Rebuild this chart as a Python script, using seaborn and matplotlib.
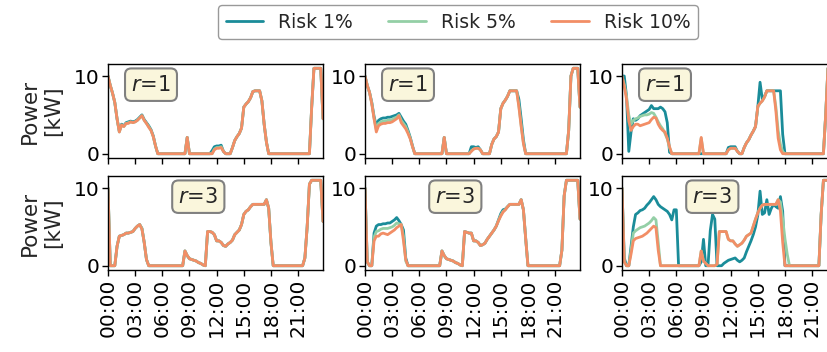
import numpy as np
import pandas as pd
import matplotlib
matplotlib.use('Agg')
import matplotlib.pyplot as plt
import seaborn as sns

# Eje temporal: un dia con resolucion de 15 minutos (96 pasos)
horas = np.arange(96) / 4
ticks_horas = [0, 3, 6, 9, 12, 15, 18, 21]
etiquetas_horas = ['00:00', '03:00', '06:00', '09:00', '12:00', '15:00', '18:00', '21:00']

series = ['Risk 1%', 'Risk 5%', 'Risk 10%']
colores = ['#1a8c99', '#94cfa6', '#f28e66']
valores_r = [1, 3]

# ---- Fila r=1 ----
a1 = [10, 8.8, 7.8, 6.6, 4.5, 2.9, 3.8, 3.6, 4.0, 4.1, 4.2, 4.1,
      4.2, 4.4, 4.7, 5.0, 4.4, 4.0, 3.6, 3.1, 2.3, 1.0, 0, 0,
      0, 0, 0, 0, 0, 0, 0, 0, 0, 0, 0, 2.1,
      0, 0, 0, 0, 0, 0, 0, 0, 0, 0, 0.4, 0.9,
      1.0, 1.0, 1.1, 0.3, 0, 0, 0, 0.8, 1.7, 2.2, 2.6, 3.3,
      6.0, 6.4, 6.7, 7.2, 8.0, 8.1, 8.1, 8.1, 6.8, 3.8, 1.5, 0,
      0, 0, 0, 0, 0, 0, 0, 0, 0, 0, 0, 0,
      0, 0, 0, 0, 0, 0, 6, 11, 11, 11, 11, 4.5]
a5 = [10, 8.8, 7.8, 6.6, 4.5, 2.8, 3.7, 3.5, 3.9, 4.0, 4.1, 4.0,
      4.1, 4.3, 4.6, 4.9, 4.3, 3.9, 3.5, 3.0, 2.2, 1.0, 0, 0,
      0, 0, 0, 0, 0, 0, 0, 0, 0, 0, 0, 2.1,
      0, 0, 0, 0, 0, 0, 0, 0, 0, 0, 0, 0.6,
      0.8, 0.8, 0.9, 0.3, 0, 0, 0, 0.8, 1.7, 2.2, 2.6, 3.3,
      6.0, 6.4, 6.7, 7.2, 8.0, 8.1, 8.1, 8.1, 6.8, 3.8, 1.5, 0,
      0, 0, 0, 0, 0, 0, 0, 0, 0, 0, 0, 0,
      0, 0, 0, 0, 0, 0, 6, 11, 11, 11, 11, 4.5]
a10 = [10, 8.8, 7.8, 6.6, 4.5, 2.8, 3.7, 3.5, 3.9, 3.9, 4.1, 4.0,
       4.1, 4.3, 4.6, 4.9, 4.3, 3.9, 3.4, 3.0, 2.2, 1.0, 0, 0,
       0, 0, 0, 0, 0, 0, 0, 0, 0, 0, 0, 2.1,
       0, 0, 0, 0, 0, 0, 0, 0, 0, 0, 0, 0.5,
       0.7, 0.7, 0.8, 0.3, 0, 0, 0, 0.8, 1.7, 2.2, 2.6, 3.3,
       6.0, 6.4, 6.7, 7.2, 8.0, 8.1, 8.1, 8.1, 6.8, 3.8, 1.5, 0,
       0, 0, 0, 0, 0, 0, 0, 0, 0, 0, 0, 0,
       0, 0, 0, 0, 0, 0, 6, 11, 11, 11, 11, 4.5]

b1 = [10, 8.8, 7.9, 6.6, 4.8, 3.6, 4.3, 4.5, 4.6, 4.6, 4.7, 4.7,
      4.8, 4.9, 5.0, 5.2, 4.7, 4.2, 3.8, 3.0, 2.1, 1.0, 0, 0,
      0, 0, 0, 0, 0, 0, 0, 0, 0, 0, 0, 2.1,
      0, 0, 0, 0, 0, 0, 0, 0, 0, 0, 0, 0.9,
      0.9, 0.8, 0.9, 0.5, 0, 0, 0, 0, 1.2, 1.9, 2.2, 2.8,
      5.8, 6.5, 6.9, 7.4, 8.1, 8.1, 8.1, 8.1, 7.0, 4.5, 1.8, 0,
      0, 0, 0, 0, 0, 0, 0, 0, 0, 0, 0, 0,
      0, 0, 0, 0, 0, 0, 3, 10, 11, 11, 11, 6]
b5 = [10, 8.8, 7.9, 6.5, 4.6, 3.1, 3.9, 4.1, 4.2, 4.2, 4.3, 4.3,
      4.4, 4.6, 4.7, 5.0, 4.3, 3.9, 3.5, 2.8, 2.0, 0.9, 0, 0,
      0, 0, 0, 0, 0, 0, 0, 0, 0, 0, 0, 2.1,
      0, 0, 0, 0, 0, 0, 0, 0, 0, 0, 0, 0.4,
      0.6, 0.7, 0.7, 0.5, 0, 0, 0, 0, 1.2, 1.9, 2.2, 2.8,
      5.8, 6.5, 6.9, 7.4, 8.1, 8.1, 8.1, 8.1, 6.2, 3.7, 1.4, 0,
      0, 0, 0, 0, 0, 0, 0, 0, 0, 0, 0, 0,
      0, 0, 0, 0, 0, 0, 3, 10, 11, 11, 11, 6]
b10 = [10, 8.8, 7.9, 6.4, 4.5, 2.8, 3.6, 3.8, 3.9, 3.9, 4.0, 4.0,
       4.1, 4.3, 4.5, 4.9, 4.0, 3.6, 3.2, 2.6, 1.9, 0.9, 0, 0,
       0, 0, 0, 0, 0, 0, 0, 0, 0, 0, 0, 2.1,
       0, 0, 0, 0, 0, 0, 0, 0, 0, 0, 0, 0.3,
       0.6, 0.7, 0.7, 0.5, 0, 0, 0, 0, 1.2, 1.9, 2.2, 2.8,
       5.8, 6.5, 6.9, 7.4, 8.1, 8.1, 8.1, 8.1, 6.0, 3.5, 1.3, 0,
       0, 0, 0, 0, 0, 0, 0, 0, 0, 0, 0, 0,
       0, 0, 0, 0, 0, 0, 3, 10, 11, 11, 11, 6]

c1 = [10, 10, 7.4, 0.3, 2.8, 4.5, 4.3, 4.5, 4.9, 5.1, 5.3, 5.5,
      5.7, 6.2, 5.8, 5.8, 5.8, 6.0, 5.8, 5.4, 4.0, 0.2, 0, 0,
      0, 0, 0, 0, 0, 0, 0, 0, 0, 0, 0, 0,
      0, 0, 0, 0, 0, 0, 0, 0, 0, 0, 0, 0.8,
      0.9, 0.9, 0.9, 0.3, 0, 0, 0.8, 1.4, 1.8, 2.4, 2.9, 3.5,
      6.0, 9.2, 7.0, 7.4, 8.1, 8.1, 8.1, 8.1, 8.1, 8.1, 8.1, 2.5,
      0, 0, 0, 0, 0, 0, 0, 0, 0, 0, 0, 0,
      0, 0, 0, 0, 0, 0, 5, 11, 11, 11, 11, 11]
c5 = [10, 8.9, 7.4, 5.0, 3.8, 4.3, 4.5, 4.6, 4.8, 4.9, 5.0, 5.0,
      5.1, 5.3, 5.2, 4.7, 4.1, 3.6, 3.2, 2.6, 1.9, 0.8, 0, 0,
      0, 0, 0, 0, 0, 0, 0, 0, 0, 0, 0, 2.0,
      0, 0, 0, 0, 0, 0, 0, 0, 0, 0, 0, 0.5,
      0.7, 0.7, 0.7, 0.3, 0, 0, 0.8, 1.4, 1.8, 2.4, 2.9, 3.5,
      6.0, 6.5, 6.8, 7.3, 8.1, 8.1, 8.1, 8.1, 6.0, 3.0, 1.2, 0.3,
      0, 0, 0, 0, 0, 0, 0, 0, 0, 0, 0, 0,
      0, 0, 0, 0, 0, 0, 5, 11, 11, 11, 11, 11]
c10 = [10, 8.7, 7.0, 4.2, 3.0, 3.5, 3.8, 3.8, 3.6, 3.7, 3.8, 3.9,
       4.0, 4.4, 4.7, 4.6, 3.8, 3.3, 3.0, 2.8, 2.0, 0.9, 0, 0,
       0, 0, 0, 0, 0, 0, 0, 0, 0, 0, 0, 2.1,
       0, 0, 0, 0, 0, 0, 0, 0, 0, 0, 0, 0.5,
       0.7, 0.7, 0.7, 0.3, 0, 0, 0.8, 1.4, 1.8, 2.4, 2.9, 3.5,
       6.1, 6.5, 6.8, 7.3, 8.1, 8.1, 8.1, 8.1, 5.5, 2.0, 0.5, 0,
       0, 0, 0, 0, 0, 0, 0, 0, 0, 0, 0, 0,
       0, 0, 0, 0, 0, 0, 5, 11, 11, 11, 11, 11]

# ---- Fila r=3 ----
d1 = [10, 0, 0, 0, 2.5, 3.8, 3.9, 4.0, 4.2, 4.2, 4.3, 4.4,
      4.8, 5.1, 5.3, 4.8, 3.0, 0.8, 0, 0, 0, 0, 0, 0,
      0, 0, 0, 0, 0, 0, 0, 0, 0, 0, 1.9, 1.3,
      0.9, 0.8, 0.7, 0.6, 0.4, 0.3, 0.1, 0, 4.4, 4.4, 4.3, 4.0,
      3.2, 3.2, 3.0, 2.6, 2.5, 2.8, 3.0, 3.3, 4.0, 4.3, 4.6, 5.3,
      6.6, 7.0, 7.2, 7.6, 7.9, 7.9, 7.9, 7.9, 7.9, 7.9, 8.5, 7.4,
      3.0, 0, 0, 0, 0, 0, 0, 0, 0, 0, 0, 0,
      0, 0, 0, 1.0, 5.0, 10.5, 11, 11, 11, 11, 11, 5.7]
d5 = [10, 0, 0, 0, 2.5, 3.8, 3.9, 4.0, 4.2, 4.2, 4.3, 4.4,
      4.8, 5.1, 5.3, 4.8, 3.0, 0.8, 0, 0, 0, 0, 0, 0,
      0, 0, 0, 0, 0, 0, 0, 0, 0, 0, 1.9, 1.3,
      0.9, 0.8, 0.7, 0.6, 0.4, 0.3, 0.1, 0, 4.4, 4.4, 4.3, 4.0,
      3.2, 3.2, 3.0, 2.6, 2.5, 2.8, 3.0, 3.3, 4.0, 4.3, 4.6, 5.3,
      6.6, 7.0, 7.2, 7.6, 7.9, 7.9, 7.9, 7.9, 7.9, 7.9, 8.5, 7.4,
      3.0, 0, 0, 0, 0, 0, 0, 0, 0, 0, 0, 0,
      0, 0, 0, 1.0, 5.0, 10.5, 11, 11, 11, 11, 11, 5.7]
d10 = [10, 0, 0, 0, 2.5, 3.8, 3.9, 4.0, 4.2, 4.2, 4.3, 4.4,
       4.8, 5.1, 5.3, 4.7, 3.0, 0.8, 0, 0, 0, 0, 0, 0,
       0, 0, 0, 0, 0, 0, 0, 0, 0, 0, 1.9, 1.3,
       0.9, 0.8, 0.7, 0.6, 0.4, 0.3, 0.1, 0, 4.4, 4.4, 4.3, 4.0,
       3.2, 3.2, 3.0, 2.6, 2.5, 2.8, 3.0, 3.3, 4.0, 4.3, 4.6, 5.3,
       6.6, 7.0, 7.2, 7.6, 7.9, 7.9, 7.9, 7.9, 7.9, 7.9, 8.5, 7.4,
       3.0, 0, 0, 0, 0, 0, 0, 0, 0, 0, 0, 0,
       0, 0, 0, 1.0, 5.0, 10.5, 11, 11, 11, 11, 11, 5.7]

e1 = [10, 0.5, 0, 0, 4.2, 5.1, 5.3, 5.3, 5.4, 5.4, 5.5, 5.5,
      5.7, 5.9, 6.2, 5.8, 5.3, 4.6, 1.0, 0, 0, 0, 0, 0,
      0, 0, 0, 0, 0, 0, 0, 0, 0, 0, 1.9, 1.3,
      0.9, 0.8, 0.7, 0.6, 0.4, 0.3, 0.1, 0, 4.4, 4.3, 4.2, 4.2,
      3.2, 3.2, 3.0, 2.6, 2.7, 2.9, 3.4, 3.8, 4.2, 4.6, 5.1, 5.9,
      6.7, 7.2, 7.3, 7.6, 7.9, 7.9, 7.9, 7.9, 7.9, 8.5, 7.2, 3.5,
      0, 0, 0, 0, 0, 0, 0, 0, 0, 0, 0, 0,
      0, 0, 0, 2.0, 9.0, 11, 11, 11, 11, 11, 11, 6]
e5 = [10, 0.5, 0, 0, 3.7, 4.4, 4.5, 4.7, 4.8, 4.8, 4.8, 4.9,
      5.0, 5.2, 5.5, 5.4, 5.3, 3.8, 0.6, 0, 0, 0, 0, 0,
      0, 0, 0, 0, 0, 0, 0, 0, 0, 0, 1.9, 1.3,
      0.9, 0.8, 0.7, 0.6, 0.4, 0.3, 0.1, 0, 4.4, 4.3, 4.2, 4.2,
      3.2, 3.2, 3.0, 2.6, 2.7, 2.9, 3.4, 3.8, 4.2, 4.6, 5.1, 5.8,
      6.5, 7.0, 7.2, 7.6, 7.9, 7.9, 7.9, 7.9, 7.9, 8.5, 7.2, 3.5,
      0, 0, 0, 0, 0, 0, 0, 0, 0, 0, 0, 0,
      0, 0, 0, 2.0, 9.0, 11, 11, 11, 11, 11, 11, 6]
e10 = [10, 0.5, 0, 0, 3.2, 3.8, 3.8, 4.1, 4.2, 4.1, 4.0, 4.2,
       4.4, 4.6, 4.9, 5.1, 5.3, 3.2, 0.8, 0, 0, 0, 0, 0,
       0, 0, 0, 0, 0, 0, 0, 0, 0, 0, 1.9, 1.3,
       0.9, 0.8, 0.7, 0.6, 0.4, 0.3, 0.1, 0, 4.4, 4.3, 4.2, 4.2,
       3.2, 3.2, 3.0, 2.6, 2.7, 2.9, 3.4, 3.8, 4.2, 4.6, 5.1, 5.8,
       6.4, 6.9, 7.2, 7.6, 7.9, 7.9, 7.9, 7.9, 7.9, 8.5, 7.2, 3.5,
       0, 0, 0, 0, 0, 0, 0, 0, 0, 0, 0, 0,
       0, 0, 0, 2.0, 9.0, 11, 11, 11, 11, 11, 11, 6]

f1 = [10, 1.0, 0, 0, 2.5, 5.0, 6.6, 6.8, 7.1, 7.2, 7.4, 7.8,
      8.1, 8.5, 8.9, 8.5, 7.9, 7.6, 7.4, 7.2, 7.0, 6.6, 5.9, 7.2,
      7.2, 0, 0, 0, 0, 0, 0, 0, 0, 0, 0, 0.5,
      3.4, 0, 0, 4.5, 6.6, 6.0, 0, 0, 0, 0.3, 0.5, 0.7,
      0.8, 0.9, 1.0, 0.7, 0.5, 0.7, 1.0, 1.8, 2.5, 3.2, 4.0, 5.0,
      6.5, 9.6, 6.6, 6.8, 8.5, 6.6, 7.4, 7.9, 7.6, 7.4, 8.9, 7.0,
      0, 0, 0, 0, 0, 0, 0, 0, 0, 0, 0, 0,
      0, 0, 0, 0, 6.6, 11, 11, 11, 11, 11, 11, 11]
f5 = [10, 0.5, 0, 0, 2.0, 4.2, 4.5, 4.7, 4.9, 5.0, 5.1, 5.3,
      5.5, 5.8, 6.2, 5.9, 3.0, 0, 0, 0, 0, 0, 0, 0,
      0, 0, 0, 0, 0, 0, 0, 0, 0, 0, 0, 1.9,
      0.6, 0.3, 0, 0, 0, 0, 0.2, 4.4, 4.4, 4.4, 4.4, 3.4,
      3.2, 3.2, 2.8, 2.5, 2.7, 2.9, 3.3, 3.8, 4.0, 4.2, 5.1, 6.0,
      6.8, 7.4, 7.8, 7.9, 7.9, 7.9, 7.9, 7.9, 7.9, 8.5, 8.2, 6.0,
      3.5, 1.5, 0, 0, 0, 0, 0, 0, 0, 0, 0, 0,
      0, 0, 0, 0, 6.6, 11, 11, 11, 11, 11, 11, 11]
f10 = [10, 0.5, 0, 0, 1.5, 3.2, 3.5, 3.6, 3.7, 3.8, 4.0, 4.2,
       4.5, 4.8, 5.1, 4.9, 2.0, 0, 0, 0, 0, 0, 0, 0,
       0, 0, 0, 0, 0, 0, 0, 0, 0, 0, 0, 1.9,
       0.6, 0.3, 0, 0, 0, 0, 0.2, 4.4, 4.4, 4.4, 4.4, 3.4,
       3.2, 3.2, 2.8, 2.5, 2.7, 2.9, 3.3, 3.8, 4.0, 4.2, 5.1, 6.0,
       6.8, 7.4, 7.8, 7.9, 7.9, 7.9, 7.9, 7.9, 7.9, 8.5, 7.0, 3.0,
       0, 0, 0, 0, 0, 0, 0, 0, 0, 0, 0, 0,
       0, 0, 0, 0, 6.6, 11, 11, 11, 11, 11, 11, 11]

paneles = [[(a1, a5, a10), (b1, b5, b10), (c1, c5, c10)],
           [(d1, d5, d10), (e1, e5, e10), (f1, f5, f10)]]

sns.set_style('ticks')
plt.rcParams['font.family'] = ['DejaVu Sans']

fig = plt.figure(figsize=(8.27, 3.52), dpi=100)

# Posiciones de los ejes en pixeles (izquierda, abajo), ancho y alto comunes
izquierdas = [108, 365, 622]
abajos = [194, 82]
ancho, alto = 215, 94
x_texto = [0.2, 0.42]

ejes = []
for fila in range(2):
    for col in range(3):
        ax = fig.add_axes([izquierdas[col] / 827, abajos[fila] / 352, ancho / 827, alto / 352])
        uno, cinco, diez = paneles[fila][col]
        df = pd.DataFrame({
            'hora': np.concatenate([horas] * 3),
            'potencia': uno + cinco + diez,
            'serie': np.repeat(series, 96),
        })
        sns.lineplot(data=df, x='hora', y='potencia', hue='serie',
                     hue_order=series, palette=colores, linewidth=2,
                     legend=False, ax=ax)
        ax.set_xlim(0, 23.75)
        ax.set_yticks([0, 10])
        ax.set_xticks(ticks_horas)
        if fila == 1:
            ax.set_xticklabels(etiquetas_horas, rotation=90)
        else:
            ax.set_xticklabels([])
        ax.set_xlabel('')
        ax.set_ylabel('Power\n[kW]' if col == 0 else '', fontsize=15.5, labelpad=8)
        ax.tick_params(labelsize=14.5, length=4, width=1, colors='black', pad=2)
        for lado in ax.spines.values():
            lado.set_color('black')
            lado.set_linewidth(1)
        ax.text(x_texto[fila], 0.78, f'$r$={valores_r[fila]}', transform=ax.transAxes,
                ha='center', va='center', fontsize=15,
                bbox=dict(boxstyle='round,pad=0.3', facecolor='#faf6dc',
                          edgecolor='gray', linewidth=1.5))
        ejes.append(ax)

lineas = ejes[0].get_lines()[:3]
fig.legend(lineas, series, loc='center', bbox_to_anchor=(458 / 827, 1 - 22 / 352),
           ncol=3, fontsize=13.5, frameon=True, fancybox=True, edgecolor='gray',
           handlelength=2, columnspacing=1.9, borderpad=0.4)

fig.savefig('out.png', dpi=100)
